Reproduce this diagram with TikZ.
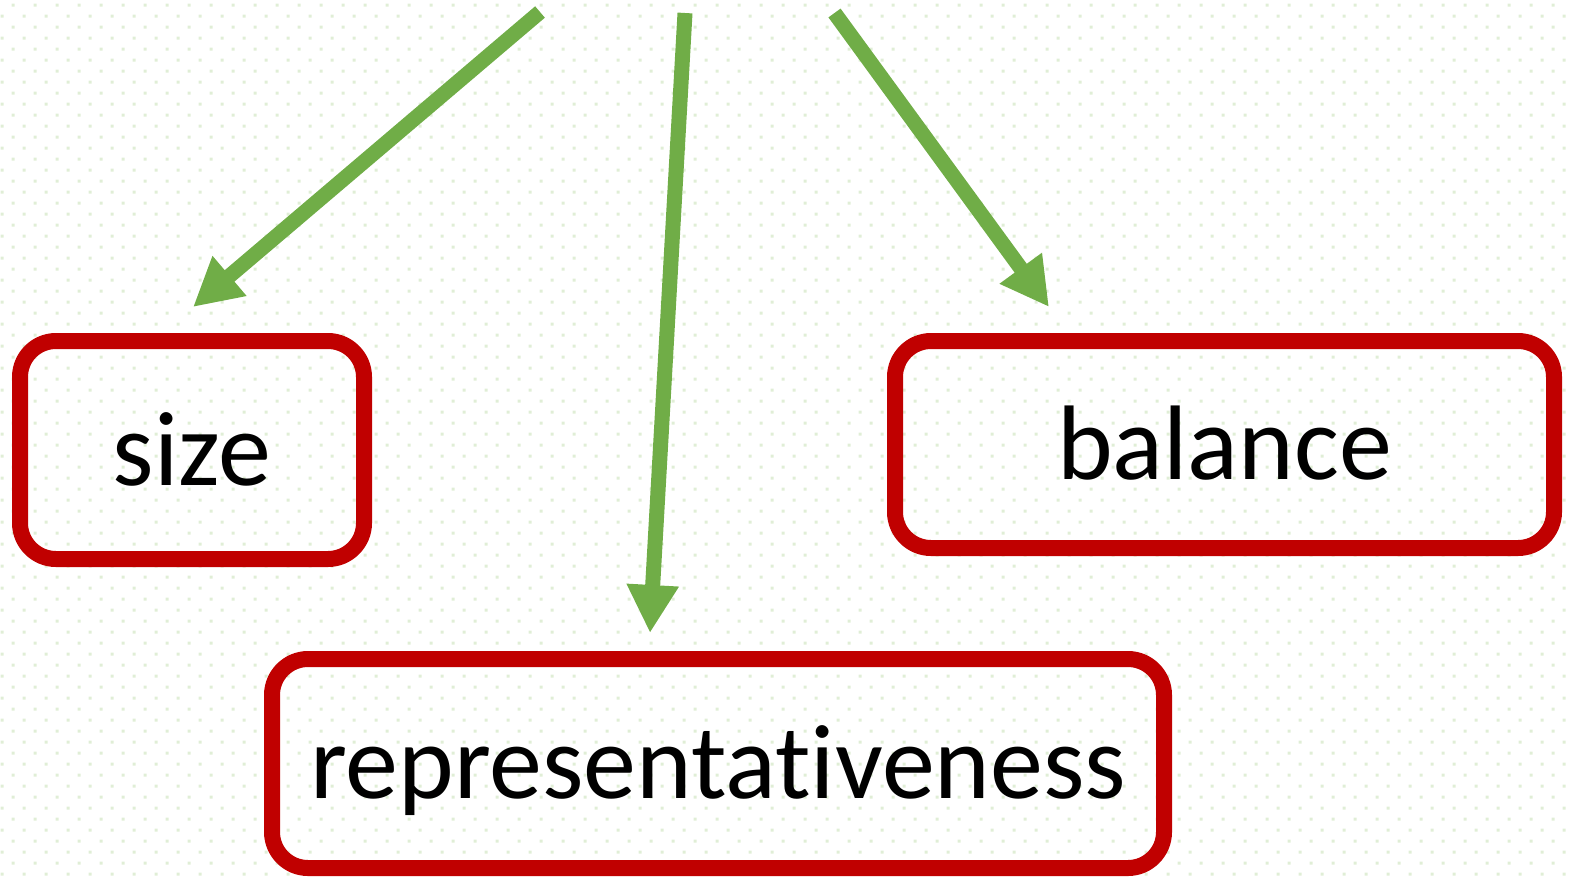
\documentclass[tikz,border=0pt]{standalone}
\usepackage{fontspec}
\setmainfont{Carlito}[Ligatures=NoCommon]
\usetikzlibrary{arrows.meta}
\definecolor{boxred}{RGB}{192,0,0}
\definecolor{arrowgreen}{RGB}{112,173,71}
\definecolor{dotgreen}{RGB}{224,238,214}
\tikzset{
  crit/.style={draw=boxred, line width=16pt, rounded corners=36pt,
    text height=70pt, text depth=0pt, font=\fontsize{106pt}{120pt}\selectfont},
  pull/.style={draw=arrowgreen, line width=15pt, -{Triangle[length=48pt,width=49pt]}},
}
\begin{document}
\begin{tikzpicture}[x=1pt, y=-1pt]
\useasboundingbox (0,0) rectangle (1571,879);
% dotted paper
\fill[dotgreen] \foreach \i in {0,...,71} {\foreach \j in {0,...,39}
  {(11.5+22*\i, 3.5+22*\j) rectangle ++(3,3) (0.5+22*\i, 14.5+22*\j) rectangle ++(3,3)}};

\node[crit, minimum width=344pt, minimum height=218pt] (size) at (192, 450) {size};
\node[crit, minimum width=659pt, minimum height=207pt] (balance) at (1224.5, 444.5) {balance};
\node[crit, minimum width=892pt, minimum height=209pt] (repr) at (718, 763.5) {representativeness};

\coordinate (fromS) at (540, 12);
\coordinate (fromR) at (685, 13);
\coordinate (fromB) at (834.5, 13);
\coordinate (toS) at (193, 307);
\coordinate (toR) at (650, 633);
\coordinate (toB) at (1049, 307);

\draw[pull] (fromS) -- (toS);
\draw[pull] (fromR) -- (toR);
\draw[pull] (fromB) -- (toB);
\end{tikzpicture}
\end{document}
